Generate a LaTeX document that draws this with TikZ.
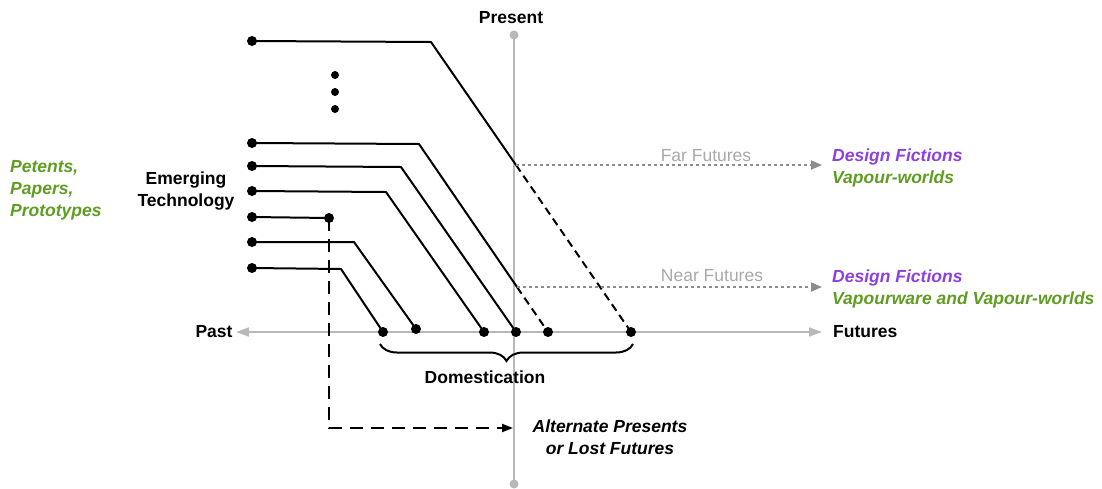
\documentclass[tikz,border=0pt]{standalone}
\usepackage{fontspec}
\setmainfont{Liberation Sans}
\usetikzlibrary{arrows.meta,decorations.pathreplacing}
\definecolor{axisgray}{HTML}{B8B8B8}
\definecolor{arrgray}{HTML}{8C8C8C}
\definecolor{textgray}{HTML}{A8A8A8}
\definecolor{fgreen}{HTML}{5E9C22}
\definecolor{fpurple}{HTML}{8E3FE0}
\begin{document}
\begin{tikzpicture}[x=1pt,y=-1pt,
  every node/.style={font=\fontsize{17.5}{22}\selectfont\bfseries, inner sep=0pt},
  dot/.style={circle, fill=black, minimum size=10pt, inner sep=0pt},
  smalldot/.style={circle, fill=black, minimum size=8pt, inner sep=0pt},
  gdot/.style={circle, fill=axisgray, minimum size=9pt, inner sep=0pt},
  tline/.style={line width=2pt, black, line join=round},
  dline/.style={line width=2pt, black, dash pattern=on 8pt off 5pt},
  altline/.style={line width=2pt, black, dash pattern=on 13pt off 8pt, -{Triangle[length=11pt,width=8pt]}},
  axisline/.style={line width=1.6pt, axisgray},
  futarrow/.style={line width=1.8pt, arrgray, dash pattern=on 2.5pt off 3.5pt, -{Triangle[length=11pt,width=9pt]}},
  green/.style={text=fgreen, font=\fontsize{17.5}{22}\selectfont\bfseries\itshape},
  bracestyle/.style={line width=2pt, decorate, decoration={brace, mirror, amplitude=17pt}}
]
\useasboundingbox (0,0) rectangle (1102,488);

% axes
\node[gdot] (ptop) at (514,35) {};
\node[gdot] (pbot) at (514,484) {};
\draw[axisline] (ptop.center) -- (pbot.center);
\coordinate (axL) at (236,332);
\coordinate (axR) at (822,332);
\draw[axisline, {Triangle[length=13pt,width=9pt]}-{Triangle[length=13pt,width=9pt]}] (axL) -- (axR);

\node (present) at (511,18) {Present};
\node (past) at (214,332) {Past};
\node[anchor=west] (futures) at (833,332) {Futures};

% line 1
\node[dot] (a1) at (252,41) {};
\coordinate (k1) at (431,42);
\coordinate (x1) at (516,165);
\node[dot] (e1) at (631,332) {};
\draw[tline] (a1.center) -- (k1) -- (x1);
\draw[dline] (x1) -- (e1.center);

% line 2
\node[dot] (a2) at (252,143) {};
\coordinate (k2) at (419,144);
\coordinate (x2) at (517,287);
\node[dot] (e2) at (548,332) {};
\draw[tline] (a2.center) -- (k2) -- (x2);
\draw[dline] (x2) -- (e2.center);

% line 3
\node[dot] (a3) at (252,166) {};
\coordinate (k3) at (401,167);
\node[dot] (e3) at (516,332) {};
\draw[tline] (a3.center) -- (k3) -- (e3.center);

% line 4
\node[dot] (a4) at (252,191) {};
\coordinate (k4) at (386,192);
\node[dot] (e4) at (484,332) {};
\draw[tline] (a4.center) -- (k4) -- (e4.center);

% line 5
\node[dot] (a5) at (252,217) {};
\node[dot] (e5) at (329,218) {};
\draw[tline] (a5.center) -- (e5.center);
\coordinate (altend) at (513,428);
\draw[altline] (e5.center) |- (altend);

% line 6
\node[dot] (a6) at (252,242) {};
\coordinate (k6) at (354,242);
\node[dot] (e6) at (416,329) {};
\draw[tline] (a6.center) -- (k6) -- (e6.center);

% line 7
\node[dot] (a7) at (252,268) {};
\coordinate (k7) at (341,269);
\node[dot] (e7) at (383,332) {};
\draw[tline] (a7.center) -- (k7) -- (e7.center);

% ellipsis
\node[smalldot] (v1) at (335,75) {};
\node[smalldot] (v2) at (335,92) {};
\node[smalldot] (v3) at (335,109) {};

% futures arrows
\coordinate (ffend) at (822,165);
\coordinate (nfend) at (822,287);
\draw[futarrow] (x1) -- (ffend);
\draw[futarrow] (x2) -- (nfend);
\node[text=textgray] (far) at (706,156) {\fontsize{17.5}{22}\selectfont\mdseries Far Futures};
\node[text=textgray] (near) at (712,276) {\fontsize{17.5}{22}\selectfont\mdseries Near Futures};

\node[anchor=west, align=left] (df1) at (832,168) {\textcolor{fpurple}{\itshape Design Fictions}\\\textcolor{fgreen}{\itshape Vapour-worlds}};
\node[anchor=west, align=left] (df2) at (832,289) {\textcolor{fpurple}{\itshape Design Fictions}\\\textcolor{fgreen}{\itshape Vapourware and Vapour-worlds}};

% left labels
\node[green, anchor=west, align=left] (ppp) at (10,190) {Petents,\\Papers,\\Prototypes};
\node[align=center] (emtech) at (186,191) {Emerging\\Technology};

% brace
\coordinate (br1) at (380,344);
\coordinate (br2) at (633,344);
\draw[bracestyle] (br1) -- (br2);
\node (dom) at (485,377) {Domestication};

\node[align=center, font=\fontsize{17.5}{22}\selectfont\bfseries\itshape] (alt) at (610,437) {Alternate Presents\\or Lost Futures};
\end{tikzpicture}
\end{document}
